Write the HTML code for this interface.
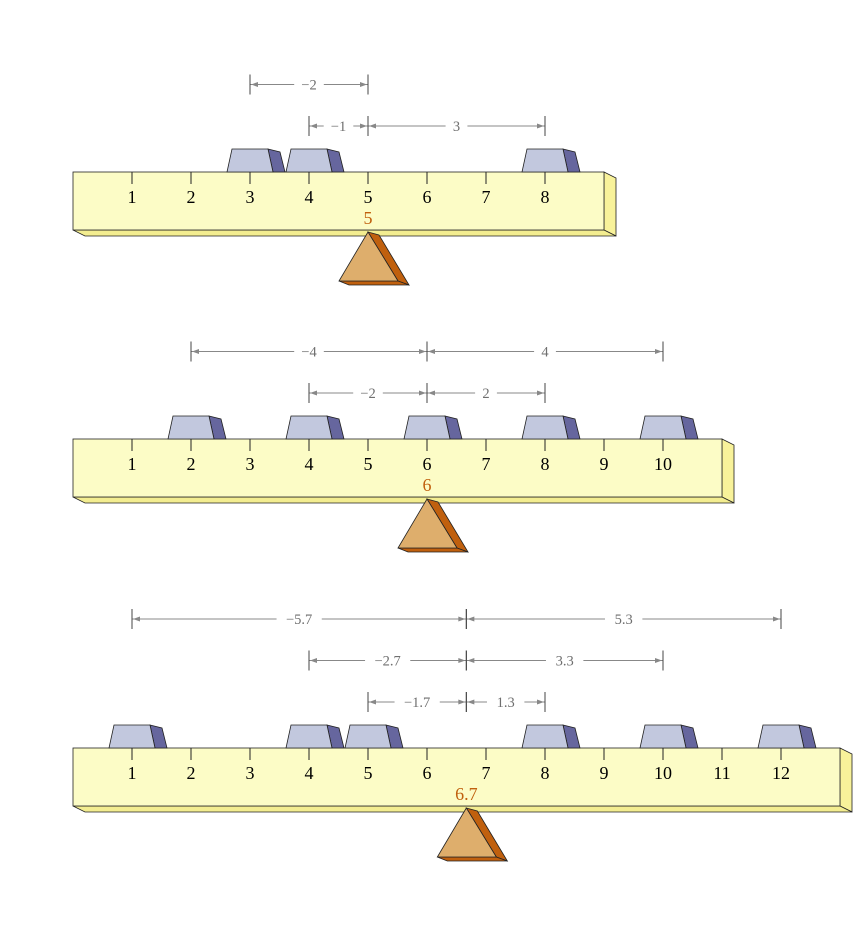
<!DOCTYPE html>
<html><head><meta charset="utf-8"><style>
html,body{margin:0;padding:0;background:#fff;}
svg{display:block;font-family:"Liberation Serif",serif;}
</style></head><body>
<svg id="chart" width="861" height="948" viewBox="0 0 861 948"></svg>
<script>
// data
const beamLengths = [9, 11, 13];
const beamTops = [172, 439, 748];
const weightsBeam1 = [3, 4, 8];
const weightsBeam2 = [2, 4, 6, 8, 10];
const weightsBeam3 = [1, 4, 5, 8, 10, 12];
const allWeights = [weightsBeam1, weightsBeam2, weightsBeam3];

const NS = 'http://www.w3.org/2000/svg';
const svg = document.getElementById('chart');
const X0 = 73, U = 59;
function xs(v){ return X0 + U*v; }
function mk(tag, attrs, parent){
  const e = document.createElementNS(NS, tag);
  for (const k in attrs) e.setAttribute(k, attrs[k]);
  (parent||svg).appendChild(e);
  return e;
}
function fmt(v){
  const r = Math.round(v*10)/10;
  const s = Math.abs(r).toFixed(Number.isInteger(r)?0:1);
  return (r<0?'\u2212':'') + s;
}
function arrow(g, x, y, dir){
  mk('polygon',{points:`${x},${y} ${x-7*dir},${y-2.5} ${x-7*dir},${y+2.5}`,fill:'#888'},g);
}
function dim(g, xa, xb, y, label){
  const l = Math.min(xa,xb), r = Math.max(xa,xb);
  mk('line',{x1:l,y1:y,x2:r,y2:y,stroke:'#888','stroke-width':1},g);
  mk('line',{x1:xa,y1:y-10,x2:xa,y2:y+10,stroke:'#444','stroke-width':1},g);
  mk('line',{x1:xb,y1:y-10,x2:xb,y2:y+10,stroke:'#444','stroke-width':1},g);
  arrow(g, l+1, y, -1);
  arrow(g, r-1, y, 1);
  const t = mk('text',{x:(l+r)/2,y:y+5,'text-anchor':'middle','font-size':14.5,fill:'#6f6f6f'},g);
  t.textContent = label;
  const w = label.length*7.8 + 14;
  const bg = mk('rect',{x:(l+r)/2-w/2,y:y-8,width:w,height:16,fill:'#fff'},g);
  g.insertBefore(bg, t);
}

beamLengths.forEach((L, bi) => {
  const top = beamTops[bi], bot = top + 58;
  const ws = allWeights[bi];
  const f = ws.reduce((a,b)=>a+b,0)/ws.length;
  const g = mk('g',{});
  
  
  const right = xs(L);
  const side = mk('polygon',{points:`${right},${top} ${right+12},${top+6} ${right+12},${bot+6} ${right},${bot}`,fill:'#f8f29a',stroke:'#222','stroke-width':0.8},g);
  
  
  const under = mk('polygon',{points:`${X0},${bot} ${right},${bot} ${right+12},${bot+6} ${X0+12},${bot+6}`,fill:'#f3ed90',stroke:'#222','stroke-width':0.8},g);
  
  
  const front = mk('rect',{x:X0,y:top,width:right-X0,height:58,fill:'#fcfcc6',stroke:'#222','stroke-width':0.8},g);
  
  
  for (let i=1;i<L;i++){
    const x = xs(i);
    mk('line',{x1:x,y1:top,x2:x,y2:top+12,stroke:'#222','stroke-width':1},g);
    const t = mk('text',{x:x,y:top+31,'text-anchor':'middle','font-size':18,fill:'#000'},g);
    
    
    t.textContent = String(i);
  }
  ws.forEach(w => {
    const x = xs(w), wt = top-23;
    const s = mk('polygon',{points:`${x+18},${wt} ${x+30},${wt+3} ${x+35},${top} ${x+23},${top}`,fill:'#66669e',stroke:'#222','stroke-width':0.8},g);
    
    
    const p = mk('polygon',{points:`${x-23},${top} ${x-18},${wt} ${x+18},${wt} ${x+23},${top}`,fill:'#c2c8de',stroke:'#222','stroke-width':0.8},g);
    
    
  });
  const fx = xs(f), ay = bot+2, by = bot+51;
  const fs = mk('polygon',{points:`${fx},${ay} ${fx+11},${ay+3} ${fx+41},${by+4} ${fx+30},${by}`,fill:'#c0600e',stroke:'#222','stroke-width':0.8},g);
  
  
  const fb = mk('polygon',{points:`${fx-29},${by} ${fx+30},${by} ${fx+41},${by+4} ${fx-19},${by+4}`,fill:'#c0600e',stroke:'#222','stroke-width':0.8},g);
  
  
  const ff = mk('polygon',{points:`${fx},${ay} ${fx-29},${by} ${fx+30},${by}`,fill:'#deae6c',stroke:'#222','stroke-width':0.8},g);
  
  
  const fl = mk('text',{x:fx,y:bot-6,'text-anchor':'middle','font-size':18,fill:'#c0600e'},g);
  
  
  fl.textContent = fmt(f);
  const left = ws.filter(w=>w<f-1e-9).sort((a,b)=>b-a);
  const rightW = ws.filter(w=>w>f+1e-9).sort((a,b)=>a-b);
  const rows = Math.max(left.length, rightW.length);
  for (let r=0;r<rows;r++){
    const y = top - 46 - r*41.5;
    const dg = mk('g',{},g);
    
    
    if (left[r]!==undefined) dim(dg, xs(left[r]), fx, y, fmt(left[r]-f));
    if (rightW[r]!==undefined) dim(dg, fx, xs(rightW[r]), y, fmt(rightW[r]-f));
  }
});
</script>
</body></html>
